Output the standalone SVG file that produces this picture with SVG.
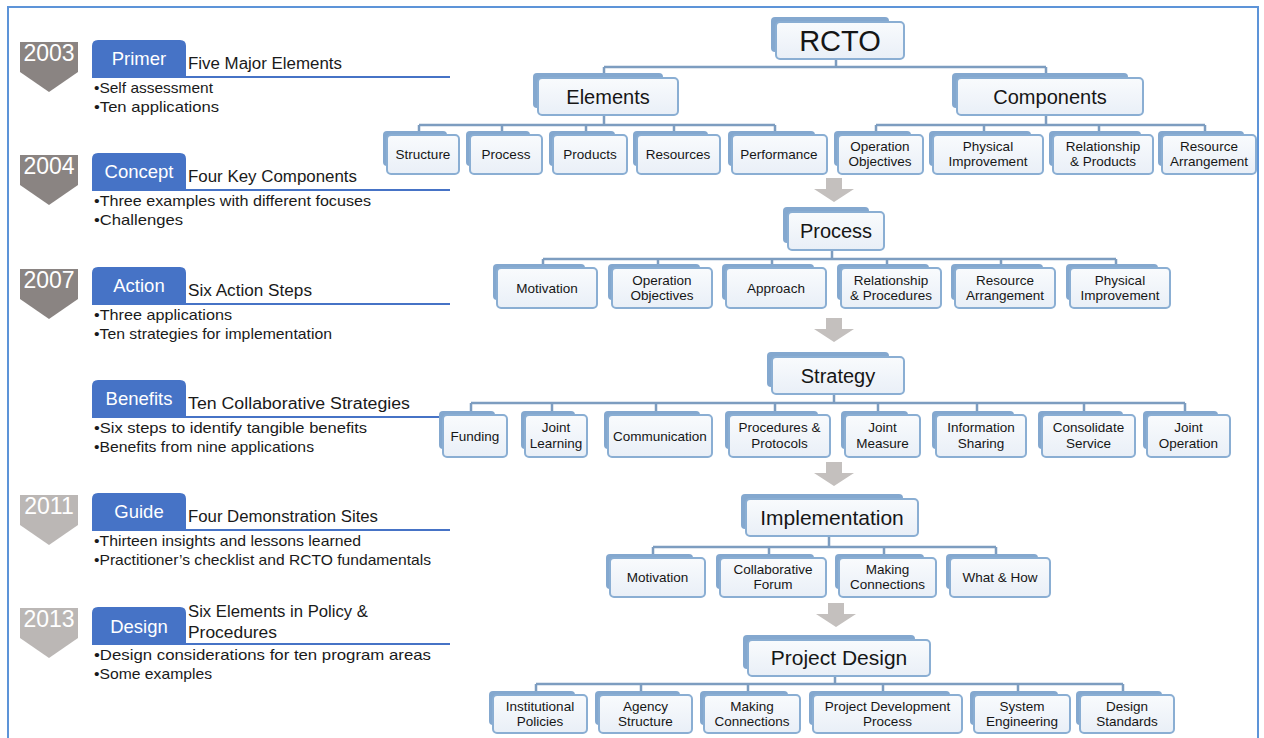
<svg xmlns="http://www.w3.org/2000/svg" width="1264" height="738" viewBox="0 0 1264 738">
<defs>
<linearGradient id="g" x1="0" y1="0" x2="0" y2="1">
<stop offset="0" stop-color="#f9fbfd"/>
<stop offset="1" stop-color="#e9eff7"/>
</linearGradient>
<style>
.bk{fill:#84a8cf}
.fr{fill:url(#g);stroke:#8aaed3;stroke-width:2}
.c{stroke:#7d9dc0;stroke-width:2.5;fill:none}
.t{font-family:"Liberation Sans",Arial,sans-serif;fill:#161616;text-anchor:middle;font-size:13.5px}
.h{font-size:20px}
.arr{fill:#c4c0be}
.b1{fill:#8a8482}
.b2{fill:#bbb7b5}
.yr{font-family:"Liberation Sans",Arial,sans-serif;font-size:23px;fill:#fff;text-anchor:middle}
.tab{fill:#4673c6}
.tabt{font-family:"Liberation Sans",Arial,sans-serif;font-size:18.5px;fill:#fff;text-anchor:middle}
.sub{font-family:"Liberation Sans",Arial,sans-serif;font-size:16px;fill:#1a1a1a}
.bul{font-family:"Liberation Sans",Arial,sans-serif;font-size:15px;fill:#1a1a1a}
.ul{stroke:#4673c6;stroke-width:2}
</style>
</defs>
<rect x="0" y="0" width="1264" height="738" fill="#ffffff"/>
<rect x="8" y="7" width="1250" height="745" fill="none" stroke="#5d94d8" stroke-width="2"/>

<!-- Left timeline -->
<g id="sec-primer">
<polygon class="b1" points="20,42 78,42 78,72 49,92 20,72"/>
<text class="yr" x="49" y="61">2003</text>
<line class="ul" x1="92" y1="77" x2="450" y2="77"/>
<path class="tab" d="M92,77 V46 Q92,40 98,40 H180 Q186,40 186,46 V77 Z"/>
<text class="tabt" x="139" y="65">Primer</text>
<text class="sub" x="188" y="69" textLength="154" lengthAdjust="spacingAndGlyphs">Five Major Elements</text>
<text class="bul" x="94" y="93" textLength="119" lengthAdjust="spacingAndGlyphs">•Self assessment</text>
<text class="bul" x="94" y="112" textLength="125" lengthAdjust="spacingAndGlyphs">•Ten applications</text>
</g>
<g id="sec-concept">
<polygon class="b1" points="20,155 78,155 78,185 49,205 20,185"/>
<text class="yr" x="49" y="174">2004</text>
<line class="ul" x1="92" y1="190" x2="450" y2="190"/>
<path class="tab" d="M92,190 V159 Q92,153 98,153 H180 Q186,153 186,159 V190 Z"/>
<text class="tabt" x="139" y="178">Concept</text>
<text class="sub" x="188" y="182" textLength="169" lengthAdjust="spacingAndGlyphs">Four Key Components</text>
<text class="bul" x="94" y="206" textLength="277" lengthAdjust="spacingAndGlyphs">•Three examples with different focuses</text>
<text class="bul" x="94" y="225" textLength="89" lengthAdjust="spacingAndGlyphs">•Challenges</text>
</g>
<g id="sec-action">
<polygon class="b1" points="20,269 78,269 78,299 49,319 20,299"/>
<text class="yr" x="49" y="288">2007</text>
<line class="ul" x1="92" y1="304" x2="450" y2="304"/>
<path class="tab" d="M92,304 V273 Q92,267 98,267 H180 Q186,267 186,273 V304 Z"/>
<text class="tabt" x="139" y="292">Action</text>
<text class="sub" x="188" y="296" textLength="124" lengthAdjust="spacingAndGlyphs">Six Action Steps</text>
<text class="bul" x="94" y="320" textLength="138" lengthAdjust="spacingAndGlyphs">•Three applications</text>
<text class="bul" x="94" y="339" textLength="238" lengthAdjust="spacingAndGlyphs">•Ten strategies for implementation</text>
</g>
<g id="sec-benefits">
<line class="ul" x1="92" y1="417" x2="450" y2="417"/>
<path class="tab" d="M92,417 V386 Q92,380 98,380 H180 Q186,380 186,386 V417 Z"/>
<text class="tabt" x="139" y="405">Benefits</text>
<text class="sub" x="188" y="409" textLength="222" lengthAdjust="spacingAndGlyphs">Ten Collaborative Strategies</text>
<text class="bul" x="94" y="433" textLength="273" lengthAdjust="spacingAndGlyphs">•Six steps to identify tangible benefits</text>
<text class="bul" x="94" y="452" textLength="220" lengthAdjust="spacingAndGlyphs">•Benefits from nine applications</text>
</g>
<g id="sec-guide">
<polygon class="b2" points="20,495 78,495 78,525 49,545 20,525"/>
<text class="yr" x="49" y="514">2011</text>
<line class="ul" x1="92" y1="530" x2="450" y2="530"/>
<path class="tab" d="M92,530 V499 Q92,493 98,493 H180 Q186,493 186,499 V530 Z"/>
<text class="tabt" x="139" y="518">Guide</text>
<text class="sub" x="188" y="522" textLength="190" lengthAdjust="spacingAndGlyphs">Four Demonstration Sites</text>
<text class="bul" x="94" y="546" textLength="267" lengthAdjust="spacingAndGlyphs">•Thirteen insights and lessons learned</text>
<text class="bul" x="94" y="565" textLength="337" lengthAdjust="spacingAndGlyphs">•Practitioner’s checklist and RCTO fundamentals</text>
</g>
<g id="sec-design">
<polygon class="b2" points="20,608 78,608 78,638 49,658 20,638"/>
<text class="yr" x="49" y="627">2013</text>
<line class="ul" x1="92" y1="644" x2="450" y2="644"/>
<path class="tab" d="M92,644 V613 Q92,607 98,607 H180 Q186,607 186,613 V644 Z"/>
<text class="tabt" x="139" y="633">Design</text>
<text class="sub" x="188" y="617" textLength="180" lengthAdjust="spacingAndGlyphs">Six Elements in Policy &amp;</text>
<text class="sub" x="188" y="638" textLength="89" lengthAdjust="spacingAndGlyphs">Procedures</text>
<text class="bul" x="94" y="660" textLength="337" lengthAdjust="spacingAndGlyphs">•Design considerations for ten program areas</text>
<text class="bul" x="94" y="679" textLength="118" lengthAdjust="spacingAndGlyphs">•Some examples</text>
</g>

<!-- Connectors -->
<g id="connectors">
<path class="c" d="M836,59 V67 M604,67 H1046 M604,67 V73 M1046,67 V73"/>
<path class="c" d="M604,115 V125 M419,125 H775 M419,125 V131 M502,125 V131 M586,125 V131 M674,125 V131 M775,125 V131"/>
<path class="c" d="M1046,115 V125 M876,125 H1205 M876,125 V131 M984,125 V131 M1099,125 V131 M1205,125 V131"/>
<path class="c" d="M832,250 V259 M543,259 H1116 M543,259 V264 M658,259 V264 M772,259 V264 M887,259 V264 M1001,259 V264 M1116,259 V264"/>
<path class="c" d="M834,394 V403 M471,403 H1185 M471,403 V411 M552,403 V411 M656,403 V411 M775,403 V411 M878,403 V411 M977,403 V411 M1084,403 V411 M1185,403 V411"/>
<path class="c" d="M829,536 V547 M653,547 H996 M653,547 V554 M769,547 V554 M884,547 V554 M996,547 V554"/>
<path class="c" d="M835,676 V684 M536,684 H1123 M536,684 V691 M641,684 V691 M748,684 V691 M883,684 V691 M1018,684 V691 M1123,684 V691"/>
<path class="arr" d="M826,178 H842 V189 H854 L834,202 L814,189 H826 Z"/>
<path class="arr" d="M826,318 H842 V329 H854 L834,342 L814,329 H826 Z"/>
<path class="arr" d="M826,462 H842 V473 H854 L834,486 L814,473 H826 Z"/>
<path class="arr" d="M828,603 H844 V614 H856 L836,627 L816,614 H828 Z"/>
</g>

<!-- Header nodes -->
<g id="n-rcto"><rect class="bk" x="771" y="17" width="118" height="35" rx="4"/><rect class="fr" x="776" y="22" width="128" height="37" rx="4"/><text class="t" style="font-size:29px" x="840" y="51">RCTO</text></g>
<g id="n-elements"><rect class="bk" x="533" y="73" width="130" height="35" rx="4"/><rect class="fr" x="538" y="78" width="140" height="37" rx="4"/><text class="t h" x="608" y="104">Elements</text></g>
<g id="n-components"><rect class="bk" x="952" y="73" width="176" height="35" rx="4"/><rect class="fr" x="957" y="78" width="186" height="37" rx="4"/><text class="t h" x="1050" y="104">Components</text></g>
<g id="n-process"><rect class="bk" x="783" y="207" width="86" height="36" rx="4"/><rect class="fr" x="788" y="212" width="96" height="38" rx="4"/><text class="t h" x="836" y="238">Process</text></g>
<g id="n-strategy"><rect class="bk" x="767" y="352" width="122" height="35" rx="4"/><rect class="fr" x="772" y="357" width="132" height="37" rx="4"/><text class="t h" x="838" y="383">Strategy</text></g>
<g id="n-implementation"><rect class="bk" x="741" y="494" width="162" height="35" rx="4"/><rect class="fr" x="746" y="499" width="172" height="37" rx="4"/><text class="t h" style="font-size:21px" x="832" y="525">Implementation</text></g>
<g id="n-projectdesign"><rect class="bk" x="743" y="635" width="172" height="34" rx="4"/><rect class="fr" x="748" y="640" width="182" height="36" rx="4"/><text class="t h" style="font-size:21px" x="839" y="665">Project Design</text></g>

<!-- Row 1: Elements / Components -->
<g id="n-structure"><rect class="bk" x="383" y="131" width="64" height="35" rx="4"/><rect class="fr" x="387" y="135" width="72" height="39" rx="4"/><text class="t" x="423" y="159">Structure</text></g>
<g id="n-e-process"><rect class="bk" x="466" y="131" width="64" height="35" rx="4"/><rect class="fr" x="470" y="135" width="72" height="39" rx="4"/><text class="t" x="506" y="159">Process</text></g>
<g id="n-products"><rect class="bk" x="549" y="131" width="66" height="35" rx="4"/><rect class="fr" x="553" y="135" width="74" height="39" rx="4"/><text class="t" x="590" y="159">Products</text></g>
<g id="n-resources"><rect class="bk" x="633" y="131" width="75" height="35" rx="4"/><rect class="fr" x="637" y="135" width="83" height="39" rx="4"/><text class="t" x="678" y="159">Resources</text></g>
<g id="n-performance"><rect class="bk" x="728" y="131" width="87" height="35" rx="4"/><rect class="fr" x="732" y="135" width="95" height="39" rx="4"/><text class="t" x="779" y="159">Performance</text></g>
<g id="n-c-opobj"><rect class="bk" x="834" y="131" width="77" height="35" rx="4"/><rect class="fr" x="838" y="135" width="85" height="39" rx="4"/><text class="t" x="880" y="151">Operation</text><text class="t" x="880" y="166">Objectives</text></g>
<g id="n-c-physimp"><rect class="bk" x="929" y="131" width="102" height="35" rx="4"/><rect class="fr" x="933" y="135" width="110" height="39" rx="4"/><text class="t" x="988" y="151">Physical</text><text class="t" x="988" y="166">Improvement</text></g>
<g id="n-c-relprod"><rect class="bk" x="1049" y="131" width="92" height="35" rx="4"/><rect class="fr" x="1053" y="135" width="100" height="39" rx="4"/><text class="t" x="1103" y="151">Relationship</text><text class="t" x="1103" y="166">&amp; Products</text></g>
<g id="n-c-resarr"><rect class="bk" x="1158" y="131" width="86" height="35" rx="4"/><rect class="fr" x="1162" y="135" width="94" height="39" rx="4"/><text class="t" x="1209" y="151">Resource</text><text class="t" x="1209" y="166">Arrangement</text></g>

<!-- Row 2: Process -->
<g id="n-p-motivation"><rect class="bk" x="493" y="264" width="92" height="36" rx="4"/><rect class="fr" x="497" y="268" width="100" height="40" rx="4"/><text class="t" x="547" y="293">Motivation</text></g>
<g id="n-p-opobj"><rect class="bk" x="608" y="264" width="92" height="36" rx="4"/><rect class="fr" x="612" y="268" width="100" height="40" rx="4"/><text class="t" x="662" y="285">Operation</text><text class="t" x="662" y="300">Objectives</text></g>
<g id="n-p-approach"><rect class="bk" x="722" y="264" width="92" height="36" rx="4"/><rect class="fr" x="726" y="268" width="100" height="40" rx="4"/><text class="t" x="776" y="293">Approach</text></g>
<g id="n-p-relproc"><rect class="bk" x="837" y="264" width="92" height="36" rx="4"/><rect class="fr" x="841" y="268" width="100" height="40" rx="4"/><text class="t" x="891" y="285">Relationship</text><text class="t" x="891" y="300">&amp; Procedures</text></g>
<g id="n-p-resarr"><rect class="bk" x="951" y="264" width="92" height="36" rx="4"/><rect class="fr" x="955" y="268" width="100" height="40" rx="4"/><text class="t" x="1005" y="285">Resource</text><text class="t" x="1005" y="300">Arrangement</text></g>
<g id="n-p-physimp"><rect class="bk" x="1066" y="264" width="92" height="36" rx="4"/><rect class="fr" x="1070" y="268" width="100" height="40" rx="4"/><text class="t" x="1120" y="285">Physical</text><text class="t" x="1120" y="300">Improvement</text></g>

<!-- Row 3: Strategy -->
<g id="n-s-funding"><rect class="bk" x="439" y="411" width="56" height="38" rx="4"/><rect class="fr" x="443" y="415" width="64" height="42" rx="4"/><text class="t" x="475" y="440.5">Funding</text></g>
<g id="n-s-jointlearning"><rect class="bk" x="521" y="411" width="54" height="38" rx="4"/><rect class="fr" x="525" y="415" width="62" height="42" rx="4"/><text class="t" x="556" y="432">Joint</text><text class="t" x="556" y="448">Learning</text></g>
<g id="n-s-communication"><rect class="bk" x="604" y="411" width="96" height="38" rx="4"/><rect class="fr" x="608" y="415" width="104" height="42" rx="4"/><text class="t" x="660" y="440.5">Communication</text></g>
<g id="n-s-procprot"><rect class="bk" x="725" y="411" width="93" height="38" rx="4"/><rect class="fr" x="729" y="415" width="101" height="42" rx="4"/><text class="t" x="779.5" y="432">Procedures &amp;</text><text class="t" x="779.5" y="448">Protocols</text></g>
<g id="n-s-jointmeasure"><rect class="bk" x="841" y="411" width="67" height="38" rx="4"/><rect class="fr" x="845" y="415" width="75" height="42" rx="4"/><text class="t" x="882.5" y="432">Joint</text><text class="t" x="882.5" y="448">Measure</text></g>
<g id="n-s-infosharing"><rect class="bk" x="932" y="411" width="82" height="38" rx="4"/><rect class="fr" x="936" y="415" width="90" height="42" rx="4"/><text class="t" x="981" y="432">Information</text><text class="t" x="981" y="448">Sharing</text></g>
<g id="n-s-consolidate"><rect class="bk" x="1038" y="411" width="85" height="38" rx="4"/><rect class="fr" x="1042" y="415" width="93" height="42" rx="4"/><text class="t" x="1088.5" y="432">Consolidate</text><text class="t" x="1088.5" y="448">Service</text></g>
<g id="n-s-jointop"><rect class="bk" x="1143" y="411" width="75" height="38" rx="4"/><rect class="fr" x="1147" y="415" width="83" height="42" rx="4"/><text class="t" x="1188.5" y="432">Joint</text><text class="t" x="1188.5" y="448">Operation</text></g>

<!-- Row 4: Implementation -->
<g id="n-i-motivation"><rect class="bk" x="606" y="554" width="87" height="35" rx="4"/><rect class="fr" x="610" y="558" width="95" height="39" rx="4"/><text class="t" x="657.5" y="582">Motivation</text></g>
<g id="n-i-forum"><rect class="bk" x="716" y="554" width="98" height="35" rx="4"/><rect class="fr" x="720" y="558" width="106" height="39" rx="4"/><text class="t" x="773" y="574">Collaborative</text><text class="t" x="773" y="589">Forum</text></g>
<g id="n-i-making"><rect class="bk" x="835" y="554" width="89" height="35" rx="4"/><rect class="fr" x="839" y="558" width="97" height="39" rx="4"/><text class="t" x="887.5" y="574">Making</text><text class="t" x="887.5" y="589">Connections</text></g>
<g id="n-i-whathow"><rect class="bk" x="946" y="554" width="92" height="35" rx="4"/><rect class="fr" x="950" y="558" width="100" height="39" rx="4"/><text class="t" x="1000" y="582">What &amp; How</text></g>

<!-- Row 5: Project Design -->
<g id="n-d-inst"><rect class="bk" x="489" y="691" width="86" height="34" rx="4"/><rect class="fr" x="493" y="695" width="94" height="38" rx="4"/><text class="t" x="540" y="711">Institutional</text><text class="t" x="540" y="726">Policies</text></g>
<g id="n-d-agency"><rect class="bk" x="595" y="691" width="85" height="34" rx="4"/><rect class="fr" x="599" y="695" width="93" height="38" rx="4"/><text class="t" x="645.5" y="711">Agency</text><text class="t" x="645.5" y="726">Structure</text></g>
<g id="n-d-making"><rect class="bk" x="700" y="691" width="88" height="34" rx="4"/><rect class="fr" x="704" y="695" width="96" height="38" rx="4"/><text class="t" x="752" y="711">Making</text><text class="t" x="752" y="726">Connections</text></g>
<g id="n-d-pdp"><rect class="bk" x="809" y="691" width="141" height="34" rx="4"/><rect class="fr" x="813" y="695" width="149" height="38" rx="4"/><text class="t" x="887.5" y="711">Project Development</text><text class="t" x="887.5" y="726">Process</text></g>
<g id="n-d-syseng"><rect class="bk" x="970" y="691" width="88" height="34" rx="4"/><rect class="fr" x="974" y="695" width="96" height="38" rx="4"/><text class="t" x="1022" y="711">System</text><text class="t" x="1022" y="726">Engineering</text></g>
<g id="n-d-standards"><rect class="bk" x="1076" y="691" width="86" height="34" rx="4"/><rect class="fr" x="1080" y="695" width="94" height="38" rx="4"/><text class="t" x="1127" y="711">Design</text><text class="t" x="1127" y="726">Standards</text></g>
</svg>
